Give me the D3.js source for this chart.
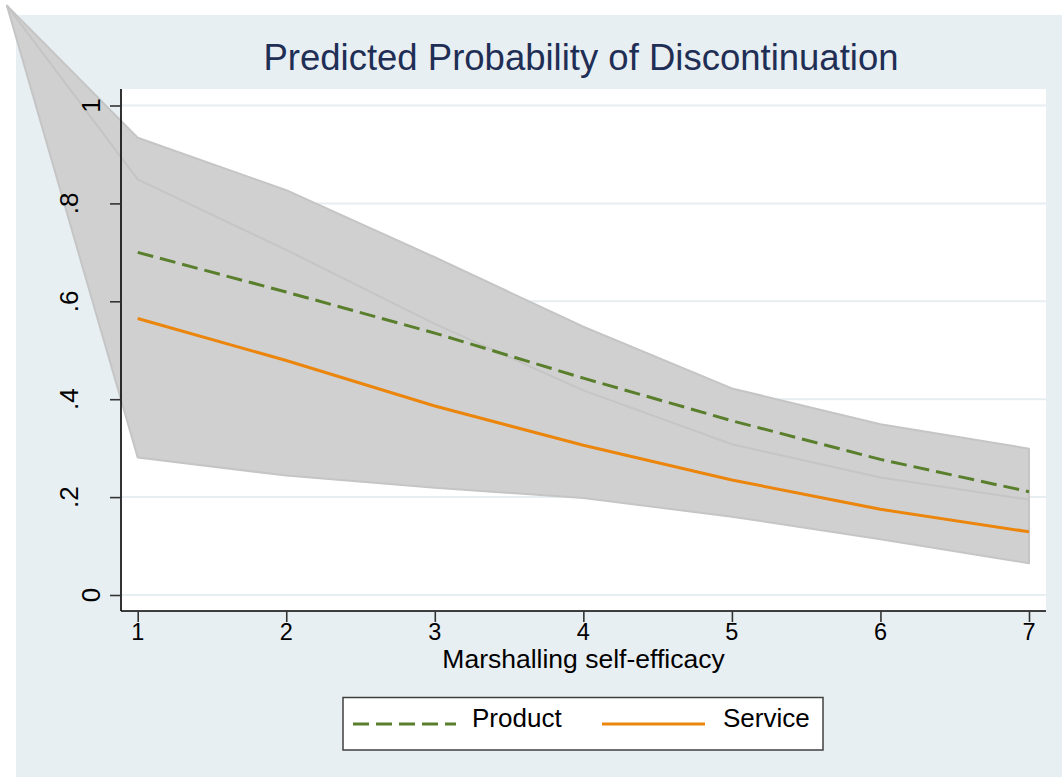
<!DOCTYPE html>
<html>
<head>
<meta charset="utf-8">
<script src="https://cdn.jsdelivr.net/npm/d3@7"></script>
<style>
  body { margin: 0; background: #ffffff; }
  svg { display: block; font-family: "Liberation Sans", Arial, Helvetica, sans-serif; }
</style>
</head>
<body>
<svg id="chart"></svg>
<script>
// data
var xVals = [1, 2, 3, 4, 5, 6, 7];
var product = [0.700, 0.619, 0.535, 0.443, 0.356, 0.277, 0.211];
var service = [0.565, 0.479, 0.386, 0.306, 0.235, 0.175, 0.129];
var productHi = [0.934, 0.827, 0.690, 0.548, 0.422, 0.349, 0.299];
var productLo = [0.47, 0.41, 0.38, 0.34, 0.29, 0.21, 0.12];
var serviceHi = [0.849, 0.705, 0.554, 0.418, 0.308, 0.240, 0.195];
var serviceLo = [0.281, 0.244, 0.219, 0.198, 0.160, 0.114, 0.065];
// stray point both shaded bands close through
var apex = [0.12, 1.204];
var yTicks = [0, 0.2, 0.4, 0.6, 0.8, 1];
var yTickLabels = ["0", ".2", ".4", ".6", ".8", "1"];
var seriesNames = ["Product", "Service"];

var width = 1062, height = 778;
var svg = d3.select('#chart')
  .attr('width', width)
  .attr('height', height);

var green = "#5a7f2c", orange = "#eb850c";

// outer background
svg.append("rect")
  .attr("x", 16).attr("y", 15)
  .attr("width", width - 16).attr("height", 762)
  .attr("fill", "#e8eff2");

// plot region
var plotLeft = 121, plotRight = 1046, plotTop = 89, plotBottom = 611;
svg.append("rect")
  .attr("x", plotLeft).attr("y", plotTop)
  .attr("width", plotRight - plotLeft).attr("height", plotBottom - plotTop)
  .attr("fill", "#ffffff");

var x = d3.scaleLinear().domain([1, 7]).range([137.7, 1029]);
var y = d3.scaleLinear().domain([0, 1]).range([595, 105.5]);

// grid lines
svg.selectAll(".grid")
  .data(yTicks)
  .enter()
  .append("line")
  .attr("x1", plotLeft).attr("x2", plotRight)
  .attr("y1", function (d) { return y(d); })
  .attr("y2", function (d) { return y(d); })
  .attr("stroke", "#e6eef1")
  .attr("stroke-width", 2);

// shaded bands
function bandPoints(hi, lo) {
  var pts = [[apex[0], apex[1]]];
  xVals.forEach(function (v, i) { pts.push([v, hi[i]]); });
  for (var i = xVals.length - 1; i >= 0; i--) pts.push([xVals[i], lo[i]]);
  return pts;
}
var poly = d3.line()
  .x(function (d) { return x(d[0]); })
  .y(function (d) { return y(d[1]); });

[[productHi, productLo], [serviceHi, serviceLo]].forEach(function (b) {
  svg.append("path")
    .attr("d", poly(bandPoints(b[0], b[1])) + "Z")
    .attr("fill", "#d0d0d0")
    .attr("stroke", "#c5c5c5")
    .attr("stroke-width", 2)
    .attr("stroke-linejoin", "round");
});

// prediction lines
var line = d3.line()
  .x(function (d, i) { return x(xVals[i]); })
  .y(function (d) { return y(d); });

svg.append("path")
  .attr("d", line(product))
  .attr("fill", "none")
  .attr("stroke", green)
  .attr("stroke-width", 3)
  .attr("stroke-dasharray", "16,7");

svg.append("path")
  .attr("d", line(service))
  .attr("fill", "none")
  .attr("stroke", orange)
  .attr("stroke-width", 3);

// axes
var yAxis = svg.append("g").attr("transform", "translate(" + plotLeft + ",0)")
  .call(d3.axisLeft(y).tickValues(yTicks).tickSize(11).tickFormat(""));
var xAxis = svg.append("g").attr("transform", "translate(0," + plotBottom + ")")
  .call(d3.axisBottom(x).tickValues(xVals).tickSize(11).tickFormat(""));
yAxis.select(".domain").attr("d", "M0," + plotTop + "V" + plotBottom);
xAxis.select(".domain").attr("d", "M" + plotLeft + ",0H" + plotRight);
svg.selectAll(".domain").attr("stroke", "#000").attr("stroke-width", 1.6);
svg.selectAll(".tick line").attr("stroke", "#333").attr("stroke-width", 1.6);

// y tick labels, rotated as in the original
svg.selectAll(".ylab")
  .data(yTicks)
  .enter()
  .append("text")
  .attr("transform", function (d, i) {
    var bx = yTickLabels[i].charAt(0) === "." ? 78 : 100;
    return "translate(" + bx + "," + y(d) + ") rotate(-90)";
  })
  .attr("text-anchor", "middle")
  .attr("font-size", "26px")
  .attr("fill", "#000")
  .text(function (d, i) { return yTickLabels[i]; });

// x tick labels
svg.selectAll(".xlab")
  .data(xVals)
  .enter()
  .append("text")
  .attr("x", function (d) { return x(d); })
  .attr("y", 640)
  .attr("text-anchor", "middle")
  .attr("font-size", "23.5px")
  .attr("fill", "#000")
  .text(function (d) { return d; });

// axis title
svg.append("text")
  .attr("x", (plotLeft + plotRight) / 2)
  .attr("y", 668)
  .attr("text-anchor", "middle")
  .attr("font-size", "26.5px")
  .attr("fill", "#000")
  .text("Marshalling self-efficacy");

// title
svg.append("text")
  .attr("x", 581)
  .attr("y", 70)
  .attr("text-anchor", "middle")
  .attr("font-size", "36.5px")
  .attr("fill", "#1f2e55")
  .text("Predicted Probability of Discontinuation");

// legend
var legend = svg.append("g");
legend.append("rect")
  .attr("x", 343).attr("y", 697.5)
  .attr("width", 480).attr("height", 52.5)
  .attr("fill", "#ffffff")
  .attr("stroke", "#404040")
  .attr("stroke-width", 1.5);

var legendItems = [
  { name: seriesNames[0], color: green, dash: "16,7", x1: 353, x2: 456, tx: 472 },
  { name: seriesNames[1], color: orange, dash: null, x1: 602, x2: 705, tx: 723 }
];
legendItems.forEach(function (d) {
  legend.append("line")
    .attr("x1", d.x1).attr("x2", d.x2)
    .attr("y1", 724).attr("y2", 724)
    .attr("stroke", d.color)
    .attr("stroke-width", 3)
    .attr("stroke-dasharray", d.dash);
  legend.append("text")
    .attr("x", d.tx).attr("y", 726.5)
    .attr("font-size", "26px")
    .attr("fill", "#000")
    .text(d.name);
});
</script>
</body>
</html>
